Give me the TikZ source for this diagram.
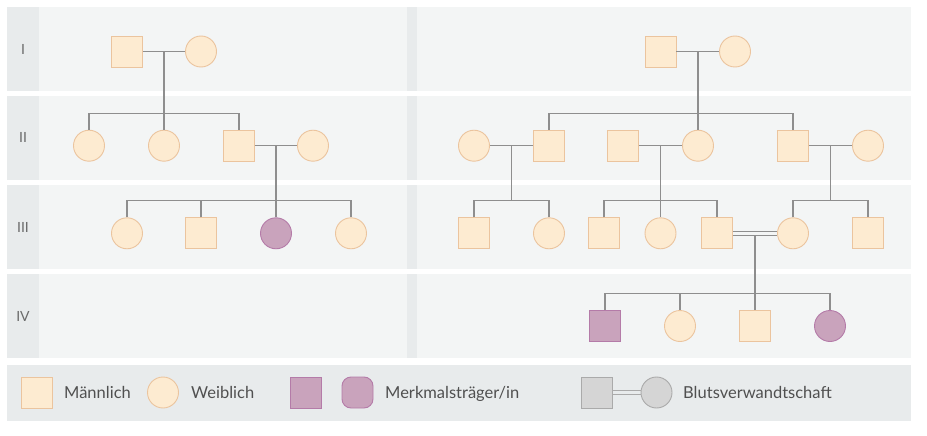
\documentclass[tikz,border=0pt]{standalone}
\usepackage{fontspec}
\setmainfont{Lato}
\definecolor{panel}{HTML}{F3F5F5}
\definecolor{strip}{HTML}{E8EBEC}
\definecolor{nfill}{HTML}{FDEBD1}
\definecolor{nbord}{HTML}{EBC49E}
\definecolor{afill}{HTML}{C9A3BC}
\definecolor{abord}{HTML}{B47BA8}
\definecolor{gfill}{HTML}{D5D5D5}
\definecolor{gbord}{HTML}{AAAAAA}
\definecolor{lcol}{HTML}{8E8E8E}
\definecolor{tcol}{HTML}{505050}
\definecolor{gcol}{HTML}{6A6A6A}
\begin{document}
\begin{tikzpicture}[x=1pt,y=-1pt,
  ln/.style={draw=lcol, line width=1.2pt},
  pers/.style={inner sep=0pt, minimum size=31pt, line width=0.9pt},
  male/.style={pers, rectangle, fill=nfill, draw=nbord},
  female/.style={pers, circle, fill=nfill, draw=nbord},
  affmale/.style={pers, rectangle, fill=afill, draw=abord},
  afffemale/.style={pers, circle, fill=afill, draw=abord},
  gen/.style={font=\fontsize{14}{14}\selectfont, text=gcol, inner sep=0pt},
  leg/.style={font=\fontsize{16.5}{16.5}\selectfont, text=tcol, anchor=base west, inner sep=0pt}]
\useasboundingbox (0,0) rectangle (927,436);
\fill[white] (0,0) rectangle (927,436);
% bands
\foreach \a/\b in {6.7/90.7, 96/180, 185/269.3, 274.3/358.3} {
  \fill[panel] (7,\a) rectangle (407,\b);
  \fill[strip] (7,\a) rectangle (39,\b);
  \fill[strip] (407,\a) rectangle (417,\b);
  \fill[panel] (417,\a) rectangle (911,\b);
}
\fill[strip] (7,365) rectangle (911,421);
% generation labels
\node[gen] (gI) at (23,49) {I};
\node[gen] (gII) at (23,137) {II};
\node[gen] (gIII) at (23,227) {III};
\node[gen] (gIV) at (23,316) {IV};

% ---------- left pedigree ----------
\node[male] (a1) at (127,51.5) {};
\node[female] (a2) at (201,51.5) {};
\node[female] (b1) at (89,145.7) {};
\node[female] (b2) at (164,145.7) {};
\node[male] (b3) at (239,145.7) {};
\node[female] (b4) at (313,145.7) {};
\node[female] (c1) at (127,233.3) {};
\node[male] (c2) at (201,233.3) {};
\node[afffemale] (c3) at (276,233.3) {};
\node[female] (c4) at (351,233.3) {};
\coordinate (m1) at (164,51.5);
\coordinate (s1) at (164,113.3);
\coordinate (m2) at (276,145.7);
\coordinate (s2) at (276,200.7);
\draw[ln] (a1) -- (a2);
\draw[ln] (m1) -- (b2.north);
\draw[ln] (b1.north) |- (s1) -| (b3.north);
\draw[ln] (b3) -- (b4);
\draw[ln] (m2) -- (c3.north);
\draw[ln] (c1.north) |- (s2) -| (c4.north);
\draw[ln] (c2.north) -- (c2.north |- s2);

% ---------- right pedigree ----------
\node[male] (d1) at (660.5,51.5) {};
\node[female] (d2) at (735,51.5) {};
\node[female] (e1) at (474,145.7) {};
\node[male] (e2) at (549,145.7) {};
\node[male] (e3) at (623,145.7) {};
\node[female] (e4) at (698,145.7) {};
\node[male] (e5) at (793,145.7) {};
\node[female] (e6) at (868,145.7) {};
\node[male] (f1) at (474,233.3) {};
\node[female] (f2) at (549,233.3) {};
\node[male] (f3) at (604,233.3) {};
\node[female] (f4) at (660.5,233.3) {};
\node[male] (f5) at (717,233.3) {};
\node[female] (f6) at (793,233.3) {};
\node[male] (f7) at (868,233.3) {};
\node[affmale] (g1) at (605,326) {};
\node[female] (g2) at (680,326) {};
\node[male] (g3) at (755,326) {};
\node[afffemale] (g4) at (830,326) {};
\coordinate (m3) at (698,51.5);
\coordinate (s3) at (698,113.3);
\coordinate (m4) at (511.5,145.7);
\coordinate (s4) at (511.5,200.7);
\coordinate (m5) at (660.5,145.7);
\coordinate (s5) at (660.5,200.7);
\coordinate (m6) at (830.5,145.7);
\coordinate (s6) at (830.5,200.7);
\coordinate (m7) at (755,235.5);
\coordinate (s7) at (755,293.5);
\draw[ln] (d1) -- (d2);
\draw[ln] (m3) -- (e4.north);
\draw[ln] (e2.north) |- (s3) -| (e5.north);
\draw[ln] (e1) -- (e2);
\draw[ln] (e3) -- (e4);
\draw[ln] (e5) -- (e6);
\draw[ln] (m4) -- (s4);
\draw[ln] (f1.north) |- (s4) -| (f2.north);
\draw[ln] (m5) -- (f4.north);
\draw[ln] (f3.north) |- (s5) -| (f5.north);
\draw[ln] (m6) -- (s6);
\draw[ln] (f6.north) |- (s6) -| (f7.north);
\draw[ln] ([yshift=2pt]f5.east) -- ([yshift=2pt]f6.west);
\draw[ln] ([yshift=-2.2pt]f5.east) -- ([yshift=-2.2pt]f6.west);
\draw[ln] (m7) -- (g3.north);
\draw[ln] (g1.north) |- (s7) -| (g4.north);
\draw[ln] (g2.north) -- (g2.north |- s7);

% ---------- legend ----------
\node[male] (lm) at (36.5,392.5) {};
\node[leg] (lmt) at (64,398) {Männlich};
\node[female] (lf) at (163,392.5) {};
\node[leg] (lft) at (191,398) {Weiblich};
\node[affmale] (la) at (306,392.5) {};
\node[pers, rectangle, rounded corners=9pt, fill=afill, draw=abord] (lb) at (357.5,392.5) {};
\node[leg] (lat) at (385,398) {Merkmalsträger/in};
\node[pers, rectangle, fill=gfill, draw=gbord] (lc) at (596.5,392.5) {};
\node[pers, circle, fill=gfill, draw=gbord] (ld) at (656.5,392.5) {};
\draw[draw=gbord, line width=1.1pt] ([yshift=2.2pt]lc.east) -- ([yshift=2.2pt]ld.west);
\draw[draw=gbord, line width=1.1pt] ([yshift=-2.2pt]lc.east) -- ([yshift=-2.2pt]ld.west);
\node[leg] (lct) at (683,398) {Blutsverwandtschaft};
\end{tikzpicture}
\end{document}
